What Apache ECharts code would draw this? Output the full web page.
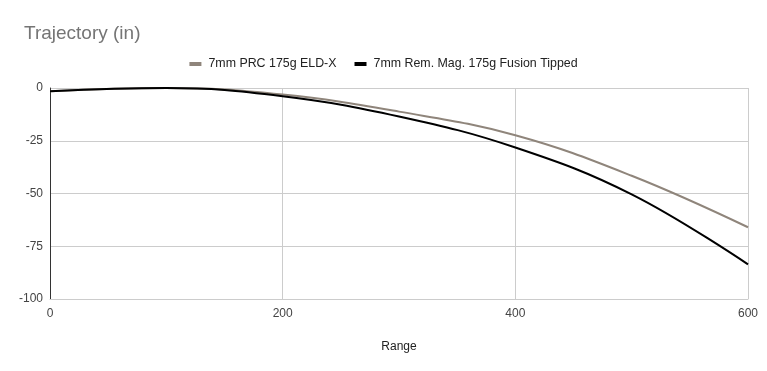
<!DOCTYPE html>
<html>
<head>
<meta charset="utf-8">
<script src="https://cdn.jsdelivr.net/npm/echarts@6/dist/echarts.min.js"></script>
<style>html,body{margin:0;padding:0;background:#fff}#c{width:767px;height:371px}</style>
</head>
<body>
<div id="c"></div>
<script>
const ranges = [0, 100, 200, 300, 400, 500, 600];
const prcName = '7mm PRC 175g ELD-X';
const prcDrop = [-1.5, 0, -3.1, -11.2, -22.4, -41.6, -66.0];
const remName = '7mm Rem. Mag. 175g Fusion Tipped';
const remDrop = [-1.5, 0, -3.9, -13.5, -28.2, -50.4, -83.6];
const yTicks = [0, -25, -50, -75, -100];
const xTicks = [0, 200, 400, 600];

const chart = echarts.init(document.getElementById('c'));
const font = 'Arial, "Liberation Sans", sans-serif';
const pair = (xs, ys) => xs.map((x, i) => [x, ys[i]]);
chart.setOption({
  animation: false,
  textStyle: { fontFamily: font },
  title: {
    text: 'Trajectory (in)', left: 19, top: 19,
    textStyle: { fontSize: 19, fontWeight: 'normal', color: '#757575', fontFamily: font }
  },
  legend: {
    top: 53, left: 'center', itemWidth: 12, itemHeight: 4, itemGap: 18,
    icon: 'rect',
    textStyle: { fontSize: 12.4, color: '#222', fontFamily: font, padding: [0, 0, 0, 2] },
    data: [prcName, remName]
  },
  grid: { left: 50, right: 19, top: 88, bottom: 72, containLabel: false },
  xAxis: {
    type: 'value', min: xTicks[0], max: xTicks[xTicks.length - 1], interval: 200,
    name: 'Range', nameLocation: 'middle', nameGap: 42,
    nameTextStyle: { fontSize: 12, color: '#222' },
    axisLine: { show: true, onZero: false, lineStyle: { color: '#ccc' } },
    axisTick: { show: false },
    axisLabel: { fontSize: 12, color: '#444', margin: 9 },
    splitLine: { show: true, lineStyle: { color: '#ccc' } }
  },
  yAxis: {
    type: 'value', min: yTicks[yTicks.length - 1], max: yTicks[0], interval: 25,
    axisLine: { show: true, lineStyle: { color: '#333' } },
    axisTick: { show: false },
    axisLabel: { fontSize: 12, color: '#444', margin: 7 },
    splitLine: { show: true, lineStyle: { color: '#ccc' } }
  },
  series: [
    { name: prcName, type: 'line', data: pair(ranges, prcDrop), smooth: 0.4, showSymbol: false,
      lineStyle: { color: '#8f857b', width: 2 }, itemStyle: { color: '#8f857b' } },
    { name: remName, type: 'line', data: pair(ranges, remDrop), smooth: 0.4, showSymbol: false,
      lineStyle: { color: '#000', width: 2 }, itemStyle: { color: '#000' } }
  ]
});
</script>
</body>
</html>
